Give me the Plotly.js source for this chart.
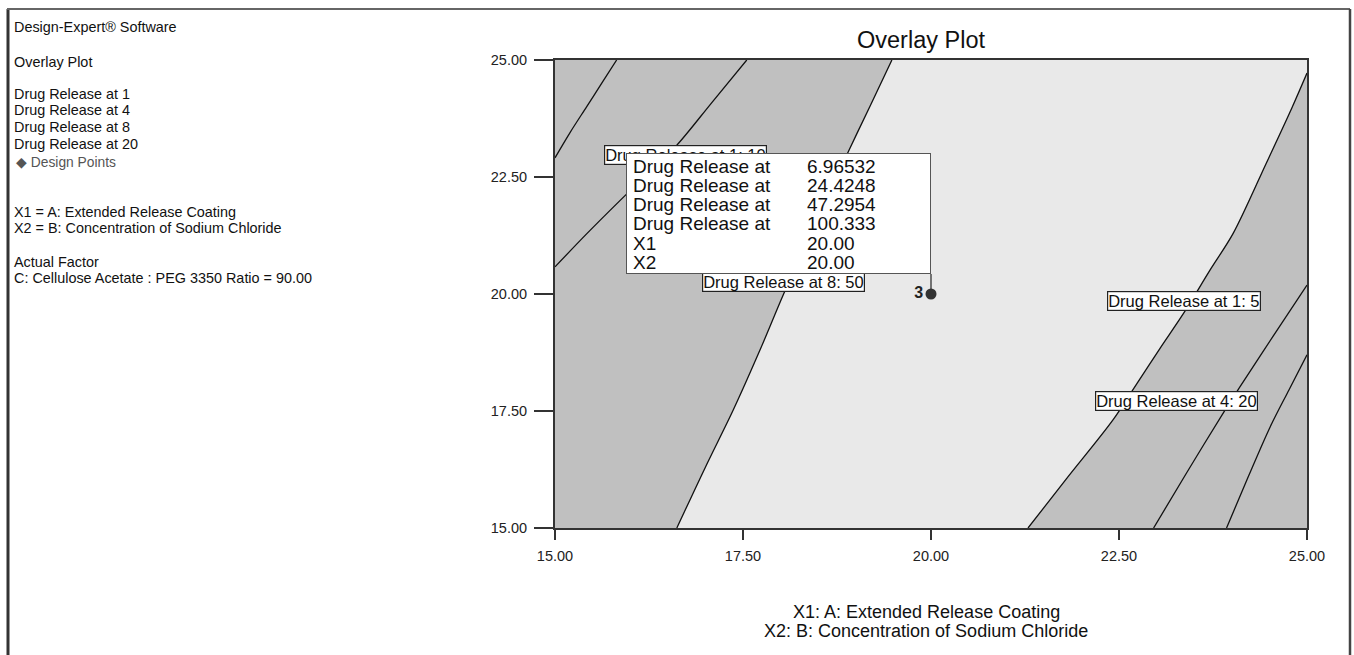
<!DOCTYPE html>
<html>
<head>
<meta charset="utf-8">
<script src="https://cdn.plot.ly/plotly-3.0.1.min.js"></script>
<style>
html,body{margin:0;padding:0;background:#fff;}
#chart{width:1354px;height:655px;}
</style>
</head>
<body>
<div id="chart"></div>
<script>
// ---------- data ----------
const xTickVals = [15, 17.5, 20, 22.5, 25];
const yTickVals = [15, 17.5, 20, 22.5, 25];

// contour lines (X1, X2)
const drug1_10_x = [15.0, 15.2, 15.42, 15.62, 15.82];
const drug1_10_y = [22.91, 23.45, 24.0, 24.5, 25.0];

const drug4_upper_x = [15.0, 15.43, 15.86, 16.25, 16.62, 17.08, 17.55];
const drug4_upper_y = [20.58, 21.3, 21.99, 22.6, 23.18, 24.08, 25.0];

const drug8_50_x = [16.62, 17.0, 17.37, 17.72, 18.04, 18.47, 18.9, 19.2, 19.48];
const drug8_50_y = [15.0, 16.3, 17.52, 18.78, 20.0, 21.55, 23.04, 24.05, 25.0];

const drug1_5_x = [21.29, 21.8, 22.42, 22.74, 23.05, 23.36, 23.71, 24.02, 24.46, 24.8, 25.0];
const drug1_5_y = [15.0, 16.05, 17.31, 18.09, 18.85, 19.59, 20.51, 21.3, 22.8, 23.98, 24.72];

const drug4_20_x = [22.96, 23.4, 23.91, 24.11, 24.55, 25.0];
const drug4_20_y = [15.0, 16.18, 17.52, 18.02, 19.1, 20.19];

const drug20_x = [23.93, 24.22, 24.51, 24.76, 25.0];
const drug20_y = [15.0, 16.1, 17.16, 17.95, 18.70];

// contour labels
const contourLabels = ["Drug Release at 1: 10", "Drug Release at 8: 50", "Drug Release at 1: 5", "Drug Release at 4: 20"];
const contourLabelX = [16.73, 18.04, 23.37, 23.26];
const contourLabelY = [22.96, 20.25, 19.84, 17.72];

// design point
const designX = [20.0];
const designY = [20.0];
const designText = ["3"];

// flag (info box)
const flagNames = ["Drug Release at", "Drug Release at", "Drug Release at", "Drug Release at", "X1", "X2"];
const flagValues = ["6.96532", "24.4248", "47.2954", "100.333", "20.00", "20.00"];

// side panel text
const sideText = [
  "Design-Expert® Software",
  "Overlay Plot",
  "Drug Release at 1",
  "Drug Release at 4",
  "Drug Release at 8",
  "Drug Release at 20",
  "◆ Design Points",
  "X1 = A: Extended Release Coating",
  "X2 = B: Concentration of Sodium Chloride",
  "Actual Factor",
  "C: Cellulose Acetate : PEG 3350 Ratio = 90.00"
];
const axisTitleLines = ["X1: A: Extended Release Coating", "X2: B: Concentration of Sodium Chloride"];

// ---------- layout geometry ----------
const W = 1354, H = 655;
const PL = 555, PR = 1307, PT = 60, PB = 528;
const pxX = px => (px - PL) / (PR - PL);          // pixel -> paper x
const pxY = py => (PB - py) / (PB - PT);          // pixel -> paper y
const dX = px => 15 + (px - PL) / (PR - PL) * 10; // pixel -> data x
const dY = py => 25 - (py - PT) / (PB - PT) * 10; // pixel -> data y

const FONT = "Liberation Sans, Arial, sans-serif";
const DARK = "#c0c0c0";
const LIGHT = "#e9e9e9";

// light (feasible) region polygon built from the two boundary contours
const regionX = drug8_50_x.concat([25], drug1_5_x.slice().reverse());
const regionY = drug8_50_y.concat([25], drug1_5_y.slice().reverse());

const lineStyle = {color: "#111", width: 1.3, shape: "spline", smoothing: 0.9};
const traces = [
  {x: regionX, y: regionY, type: "scatter", mode: "lines", fill: "toself",
   fillcolor: LIGHT, line: {width: 0}, hoverinfo: "skip", showlegend: false},
];
[[drug1_10_x, drug1_10_y], [drug4_upper_x, drug4_upper_y], [drug8_50_x, drug8_50_y],
 [drug1_5_x, drug1_5_y], [drug4_20_x, drug4_20_y], [drug20_x, drug20_y]].forEach(([xs, ys]) => {
  traces.push({x: xs, y: ys, type: "scatter", mode: "lines", line: lineStyle,
               hoverinfo: "skip", showlegend: false});
});
traces.push({x: designX, y: designY, type: "scatter", mode: "markers+text",
  marker: {size: 11, color: "#333", line: {width: 0}},
  text: designText, textposition: "middle left",
  textfont: {family: FONT, size: 16, color: "#222", weight: "bold"},
  hoverinfo: "skip", showlegend: false});

const annotations = [];
// contour labels
contourLabels.forEach((t, i) => {
  annotations.push({x: contourLabelX[i], y: contourLabelY[i], xref: "x", yref: "y",
    text: t, showarrow: false, font: {family: FONT, size: 16.5, color: "#111"},
    bgcolor: "#fff", bordercolor: "#222", borderwidth: 1.2, borderpad: 0});
});

// flag box (drawn as an annotation so that it covers the contour label beneath it)
const boxL = 626, boxR = PL + (designX[0] - 15) / 10 * (PR - PL), boxT = 153, boxB = 274;
annotations.push({x: dX((boxL + boxR) / 2), y: dY((boxT + boxB) / 2), xref: "x", yref: "y",
  xanchor: "center", yanchor: "middle", text: " ", showarrow: false,
  width: boxR - boxL - 2, height: boxB - boxT - 2,
  bgcolor: "#fff", bordercolor: "#555", borderwidth: 1, borderpad: 0});

// flag text
const flagRows = [166, 185, 204, 223, 243, 262];
flagNames.forEach((t, i) => {
  annotations.push({x: dX(631), y: dY(flagRows[i]), xref: "x", yref: "y", xanchor: "left",
    yanchor: "middle", text: t, showarrow: false, font: {family: FONT, size: 19, color: "#111"}});
  annotations.push({x: dX(805), y: dY(flagRows[i]), xref: "x", yref: "y", xanchor: "left",
    yanchor: "middle", text: flagValues[i], showarrow: false, font: {family: FONT, size: 19, color: "#111"}});
});

// side panel
const sideY = [27, 62, 94, 110, 127, 144, 162, 212, 228, 262, 278];
sideText.forEach((t, i) => {
  annotations.push({x: pxX(i === 6 ? 14 : 12), y: pxY(sideY[i]), xref: "paper", yref: "paper",
    xanchor: "left", yanchor: "middle", text: t, showarrow: false,
    font: {family: FONT, size: i === 6 ? 13.8 : 14.4, color: i === 6 ? "#555" : "#111"}});
});

// axis title lines
[612, 631].forEach((py, i) => {
  annotations.push({x: pxX(926), y: pxY(py), xref: "paper", yref: "paper",
    xanchor: "center", yanchor: "middle", text: axisTitleLines[i], showarrow: false,
    font: {family: FONT, size: 18, color: "#111"}, borderpad: 0});
});

const shapes = [
  // outer frame
  {type: "line", xref: "paper", yref: "paper", x0: pxX(8), x1: pxX(8), y0: pxY(9), y1: pxY(660),
   line: {color: "#333", width: 3}},
  {type: "line", xref: "paper", yref: "paper", x0: pxX(7), x1: pxX(1350), y0: pxY(9), y1: pxY(9),
   line: {color: "#666", width: 2}},
  {type: "line", xref: "paper", yref: "paper", x0: pxX(1350), x1: pxX(1350), y0: pxY(9), y1: pxY(660),
   line: {color: "#444", width: 2.5}},
  // leader line from flag to design point
  {type: "line", xref: "x", yref: "y", x0: designX[0], x1: designX[0], y0: dY(boxB), y1: designY[0],
   line: {color: "#333", width: 1.3}}
];

const axisCommon = {
  range: [15, 25], tickmode: "array", tickformat: ".2f",
  showgrid: false, zeroline: false, showline: true, mirror: true,
  linecolor: "#333", linewidth: 2, ticks: "outside", tickcolor: "#333", tickwidth: 1.5,
  tickfont: {family: FONT, size: 14.5, color: "#222"}, fixedrange: true,
  ticklabelstandoff: 4
};

const layout = {
  width: W, height: H,
  margin: {l: PL, r: W - PR, t: PT, b: H - PB, pad: 0},
  paper_bgcolor: "#fff", plot_bgcolor: DARK,
  title: {text: "Overlay Plot", x: 921 / W, xanchor: "center",
          y: 1 - 40 / H, yanchor: "middle", font: {family: FONT, size: 23.5, color: "#111"}},
  xaxis: Object.assign({}, axisCommon, {tickvals: xTickVals, ticklen: 10}),
  yaxis: Object.assign({}, axisCommon, {tickvals: yTickVals, ticklen: 19}),
  annotations: annotations,
  shapes: shapes,
  showlegend: false
};

Plotly.newPlot("chart", traces, layout, {displayModeBar: false, staticPlot: true});
</script>
</body>
</html>
